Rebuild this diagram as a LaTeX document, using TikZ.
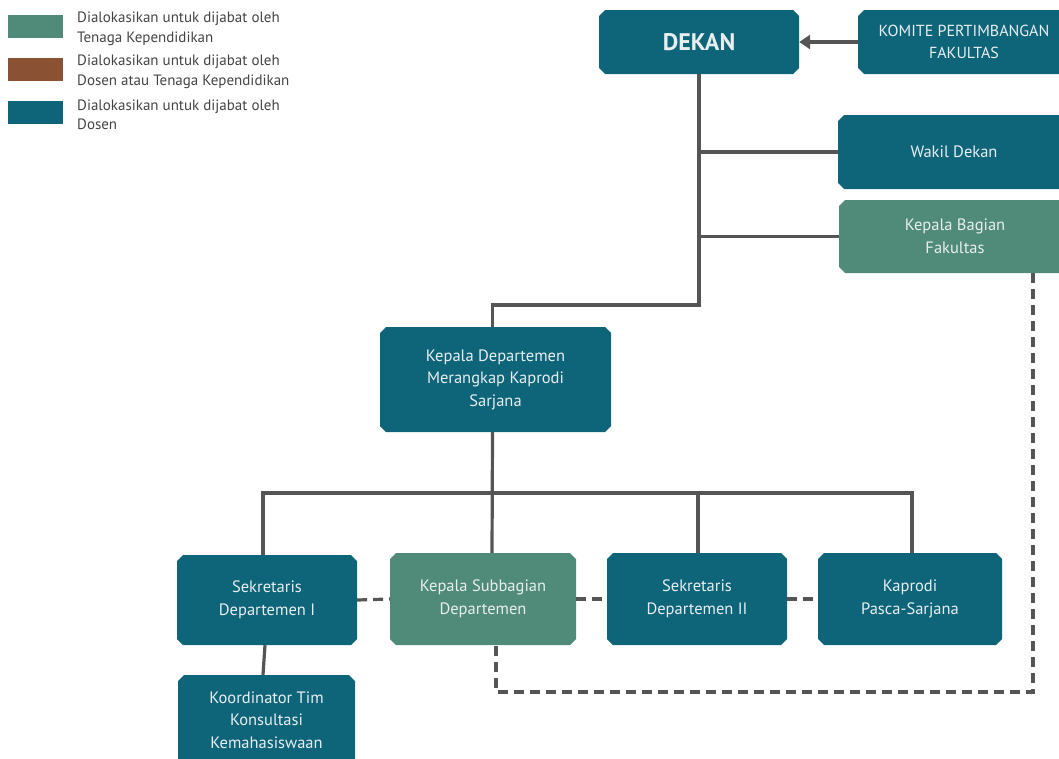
\documentclass[tikz,border=0pt]{standalone}
\usepackage{fontspec}
\setmainfont{PT Sans}
\usetikzlibrary{shapes.misc,arrows.meta}
\definecolor{dosen}{RGB}{14,101,121}
\definecolor{tendik}{RGB}{80,138,120}
\definecolor{campur}{RGB}{139,81,51}
\definecolor{garis}{RGB}{85,85,85}
\definecolor{legtext}{RGB}{68,68,68}
\definecolor{boxtext}{RGB}{232,238,240}
\tikzset{
  orgbox/.style={chamfered rectangle, chamfered rectangle xsep=3pt, chamfered rectangle ysep=3pt,
    inner sep=0pt, draw=none, text=boxtext, align=center,
    font=\fontsize{16.5}{22.5}\selectfont},
  dosenbox/.style={orgbox, fill=dosen},
  tendikbox/.style={orgbox, fill=tendik},
  conn/.style={draw=garis, line width=3.2pt},
  dconn/.style={conn, dash pattern=on 10pt off 6pt},
  swatch/.style={draw=none, inner sep=0pt, minimum width=55pt, minimum height=23pt},
  legtxt/.style={anchor=west, align=left, text=legtext, inner sep=0pt,
    font=\fontsize{15}{19.5}\selectfont}
}
\begin{document}
\begin{tikzpicture}[x=1pt,y=-1pt]
\useasboundingbox (0,0) rectangle (1059,758);
% legend
\node[swatch, fill=tendik] (s1) at (35.5,26.5) {};
\node[swatch, fill=campur] (s2) at (35.5,69) {};
\node[swatch, fill=dosen] (s3) at (35.5,112) {};
\node[legtxt] (l1) at (77,29) {Dialokasikan untuk dijabat oleh\\Tenaga Kependidikan};
\node[legtxt] (l2) at (77,72) {Dialokasikan untuk dijabat oleh\\Dosen atau Tenaga Kependidikan};
\node[legtxt] (l3) at (77,115) {Dialokasikan untuk dijabat oleh\\Dosen};
% boxes
\node[dosenbox, minimum width=200pt, minimum height=64pt, font=\fontsize{24}{28}\selectfont\bfseries] (dekan) at (699,42) {DEKAN};
\node[dosenbox, minimum width=212pt, minimum height=64pt, font=\fontsize{16}{22}\selectfont] (komite) at (964,42) {KOMITE PERTIMBANGAN\\FAKULTAS};
\node[dosenbox, minimum width=232pt, minimum height=74pt] (wakil) at (954,152) {Wakil Dekan};
\node[tendikbox, minimum width=232pt, minimum height=73pt] (bagian) at (955,236.5) {Kepala Bagian\\Fakultas};
\node[dosenbox, minimum width=231pt, minimum height=105pt] (kdep) at (495.5,379.5) {Kepala Departemen\\Merangkap Kaprodi\\Sarjana};
\node[dosenbox, minimum width=180pt, minimum height=90pt] (sek1) at (267,600) {Sekretaris\\Departemen I};
\node[tendikbox, minimum width=186pt, minimum height=92pt] (subbag) at (483,599) {Kepala Subbagian\\Departemen};
\node[dosenbox, minimum width=180pt, minimum height=92pt] (sek2) at (697,599) {Sekretaris\\Departemen II};
\node[dosenbox, minimum width=184pt, minimum height=92pt] (kaprodi) at (910,599) {Kaprodi\\Pasca-Sarjana};
\node[dosenbox, minimum width=177pt, minimum height=90pt] (koord) at (266.5,720) {Koordinator Tim\\Konsultasi\\Kemahasiswaan};
% connectors
\coordinate (j1) at (699,305);
\coordinate (bar) at (0,493);
\coordinate (dc) at (1033,692);
\draw[conn, -{Triangle[length=11pt,width=14pt]}] (komite.west) -- (dekan.east);
\draw[conn] (dekan.south) -- (j1) -| ([xshift=-3pt]kdep.north);
\draw[conn] (dekan.south |- wakil.west) -- (wakil.west);
\draw[conn] (dekan.south |- bagian.west) -- (bagian.west);
\draw[conn] ([xshift=-3pt]kdep.south) -- ([xshift=9pt]subbag.north);
\draw[conn] ([xshift=-4pt]sek1.north) -- ([xshift=-4pt]sek1.north |- bar) -| ([xshift=2pt]kaprodi.north);
\draw[conn] ([xshift=1pt]sek2.north) -- ([xshift=1pt]sek2.north |- bar);
\draw[conn] ([xshift=-2pt]sek1.south) -- ([xshift=-3.5pt]koord.north);
\draw[dconn] (sek1.east) -- (subbag.west);
\draw[dconn] (subbag.east) -- (sek2.west);
\draw[dconn] (sek2.east) -- (kaprodi.west);
\draw[dconn] (bagian.south -| dc) -- (dc) -| ([xshift=13pt]subbag.south);
\end{tikzpicture}
\end{document}
